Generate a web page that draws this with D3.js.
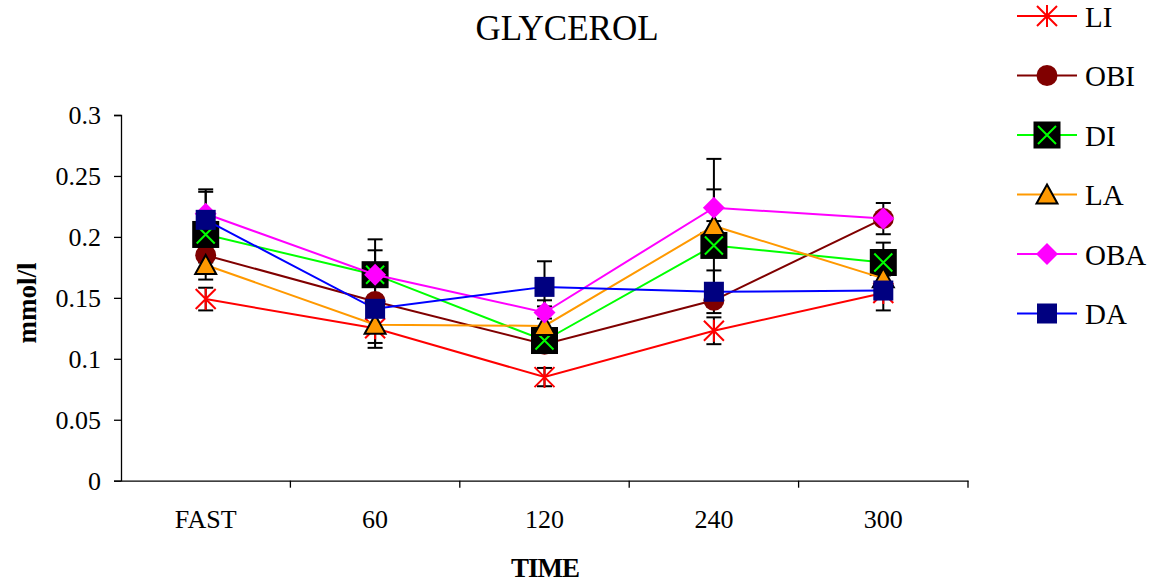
<!DOCTYPE html>
<html>
<head>
<meta charset="utf-8">
<script src="https://cdn.jsdelivr.net/npm/d3@7"></script>
<style>
  html, body { margin: 0; padding: 0; background: #fff; }
  svg { display: block; }
  text { font-family: "Liberation Serif", "Times New Roman", serif; fill: #000; }
</style>
</head>
<body>
<svg id="chart" width="1154" height="583"></svg>
<script>
// Time points
const categories = ["FAST", "60", "120", "240", "300"];
const yTicks = [0, 0.05, 0.1, 0.15, 0.2, 0.25, 0.3];

// Glycerol means (mmol/l)
const LI  = [0.149, 0.125, 0.085, 0.123, 0.154];
const OBI = [0.185, 0.147, 0.112, 0.148, 0.215];
const DI  = [0.202, 0.169, 0.115, 0.193, 0.179];
const LA  = [0.177, 0.128, 0.127, 0.209, 0.166];
const OBA = [0.219, 0.169, 0.138, 0.224, 0.215];
const DA  = [0.214, 0.141, 0.159, 0.155, 0.156];

// Error bar half-widths (mmol/l)
const LI_err  = [0.0093, 0.016, 0.0075, 0.011, 0.0143];
const OBI_err = [0.006, 0.005, 0.005, 0.005, 0.004];
const DI_err  = [0.037, 0.029, 0.005, 0.046, 0.0163];
const LA_err  = [0.004, 0.015, 0.021, 0.004, 0.005];
const OBA_err = [0.018, 0.020, 0.005, 0.040, 0.0128];
const DA_err  = [0.006, 0.005, 0.021, 0.0175, 0.005];

const seriesNames = ["LI", "OBI", "DI", "LA", "OBA", "DA"];
const seriesValues = [LI, OBI, DI, LA, OBA, DA];
const seriesErrors = [LI_err, OBI_err, DI_err, LA_err, OBA_err, DA_err];

const series = seriesNames.map((name, i) => ({
  name, values: seriesValues[i], errors: seriesErrors[i]
}));

const style = {
  LI:  { line: "#ff0000", marker: "star" },
  OBI: { line: "#800000", marker: "circle" },
  DI:  { line: "#00ff00", marker: "xsquare" },
  LA:  { line: "#ff9900", marker: "triangle" },
  OBA: { line: "#ff00ff", marker: "diamond" },
  DA:  { line: "#0000ff", marker: "square" }
};

const svg = d3.select("#chart");
const plot = { left: 121, right: 968, top: 115, bottom: 480.7 };

const xBand = d3.scaleBand().domain(categories).range([plot.left, plot.right]).padding(0);
const xPos = d => xBand(d) + xBand.bandwidth() / 2;
const y = d3.scaleLinear().domain([0, 0.3]).range([plot.bottom, plot.top]);

// Title
svg.append("text")
  .attr("x", 567).attr("y", 39.5)
  .attr("text-anchor", "middle")
  .style("font-size", "35px")
  .text("GLYCEROL");

// Y axis
const yAxis = svg.append("g")
  .attr("transform", `translate(${plot.left},0)`)
  .call(d3.axisLeft(y).tickValues(yTicks).tickSize(7).tickPadding(13)
    .tickFormat(d => String(+d.toFixed(2))));
yAxis.select(".domain").attr("stroke", "#000").attr("stroke-width", 1.3);
yAxis.selectAll(".tick line").attr("stroke", "#000").attr("stroke-width", 1.3);
yAxis.selectAll(".tick text")
  .style("font-size", "26px")
  .style("font-family", "'Liberation Serif', 'Times New Roman', serif")
  .attr("fill", "#000");

// X axis: labels centred in each band, ticks on band boundaries
const xAxis = svg.append("g")
  .attr("transform", `translate(0,${plot.bottom})`)
  .call(d3.axisBottom(xBand).tickSize(0).tickPadding(0));
xAxis.select(".domain").attr("stroke", "#000").attr("stroke-width", 1.3);
xAxis.selectAll(".tick text")
  .attr("y", 47).attr("dy", null)
  .style("font-size", "26px")
  .style("font-family", "'Liberation Serif', 'Times New Roman', serif")
  .attr("fill", "#000");
const boundaries = categories.map(c => xBand(c)).concat([xBand(categories[categories.length - 1]) + xBand.bandwidth()]);
xAxis.selectAll(".bound")
  .data(boundaries.slice(1))
  .enter().append("line")
  .attr("class", "bound")
  .attr("x1", d => d).attr("x2", d => d)
  .attr("y1", 0).attr("y2", 7)
  .attr("stroke", "#000").attr("stroke-width", 1.3);

// Axis titles
svg.append("text")
  .attr("x", 545).attr("y", 577)
  .attr("text-anchor", "middle")
  .style("font-size", "27px").style("font-weight", "bold")
  .style("letter-spacing", "-1px")
  .text("TIME");
svg.append("text")
  .attr("transform", "translate(36,303) rotate(-90)")
  .attr("text-anchor", "middle")
  .style("font-size", "27px").style("font-weight", "bold")
  .text("mmol/l");

// Marker drawing
function drawMarker(g, type, color) {
  if (type === "star") {
    const h = 10;
    g.append("path")
      .attr("d", `M${-h},${-h}L${h},${h}M${h},${-h}L${-h},${h}M0,${-h - 1}L0,${h + 1}`)
      .attr("stroke", color).attr("stroke-width", 2).attr("fill", "none");
  } else if (type === "circle") {
    g.append("circle").attr("r", 10.5).attr("fill", "#800000");
  } else if (type === "xsquare") {
    const h = 13.5, k = 9;
    g.append("rect").attr("x", -h).attr("y", -h).attr("width", 2 * h).attr("height", 2 * h).attr("fill", "#000");
    g.append("path")
      .attr("d", `M${-k},${-k}L${k},${k}M${k},${-k}L${-k},${k}`)
      .attr("stroke", "#00ff00").attr("stroke-width", 2).attr("fill", "none");
  } else if (type === "triangle") {
    g.append("path")
      .attr("d", "M0,-10L10.5,9L-10.5,9Z")
      .attr("fill", "#ff9900").attr("stroke", "#000").attr("stroke-width", 2)
      .attr("stroke-linejoin", "miter");
  } else if (type === "diamond") {
    g.append("path").attr("d", "M0,-11L11,0L0,11L-11,0Z").attr("fill", "#ff00ff");
  } else if (type === "square") {
    g.append("rect").attr("x", -10).attr("y", -10).attr("width", 20).attr("height", 20).attr("fill", "#000080");
  }
}

// Error bars (beneath lines and markers)
const errLayer = svg.append("g");
series.forEach(s => {
  s.values.forEach((v, i) => {
    const e = s.errors[i];
    const cx = xPos(categories[i]);
    const g = errLayer.append("g").attr("stroke", "#000").attr("stroke-width", 2);
    g.append("line").attr("x1", cx).attr("x2", cx).attr("y1", y(v + e)).attr("y2", y(v - e));
    [v + e, v - e].forEach(t => {
      g.append("line").attr("x1", cx - 7.5).attr("x2", cx + 7.5).attr("y1", y(t)).attr("y2", y(t));
    });
  });
});

// Series lines and markers, drawn in series order
const line = d3.line().x((d, i) => xPos(categories[i])).y(d => y(d));
series.forEach(s => {
  const st = style[s.name];
  const g = svg.append("g");
  g.append("path").attr("d", line(s.values))
    .attr("fill", "none").attr("stroke", st.line).attr("stroke-width", 2);
  s.values.forEach((v, i) => {
    const m = g.append("g").attr("transform", `translate(${xPos(categories[i])},${y(v)})`);
    drawMarker(m, st.marker, st.line);
  });
});

// Legend
const legend = svg.append("g");
series.forEach((s, i) => {
  const st = style[s.name];
  const cy = 16 + i * 59.5;
  const row = legend.append("g").attr("transform", `translate(0,${cy})`);
  row.append("line").attr("x1", 1017).attr("x2", 1077).attr("y1", 0).attr("y2", 0)
    .attr("stroke", st.line).attr("stroke-width", 2);
  drawMarker(row.append("g").attr("transform", "translate(1047,0)"), st.marker, st.line);
  row.append("text").attr("x", 1085).attr("y", 10.5)
    .style("font-size", "29px").text(s.name);
});
</script>
</body>
</html>
